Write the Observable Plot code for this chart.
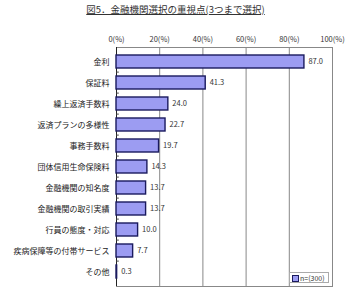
<!DOCTYPE html>
<html><head><meta charset="utf-8">
<script src="https://cdn.jsdelivr.net/npm/d3@7"></script>
<script src="https://cdn.jsdelivr.net/npm/@observablehq/plot@0.6"></script>
<style>
body{margin:0;background:#fff;font-family:"Noto Sans CJK JP",sans-serif;}
#wrap{position:relative;width:351px;height:300px;}
#title{position:absolute;left:0;top:2px;width:351px;text-align:center;font-size:9.5px;color:#333;}
#title span{text-decoration:underline;}
#legend{position:absolute;left:289px;top:272px;width:40px;height:11px;border:1px solid #aaa;background:#fff;font-size:7px;color:#333;line-height:11px;box-sizing:border-box;padding-left:2px;}
#legend i{display:inline-block;width:5px;height:5px;background:#9c9cf2;border:1px solid #1a1a5e;vertical-align:middle;margin-right:1px;position:relative;top:-1px;}
</style></head>
<body><div id="wrap"><div id="title"><span>図5．金融機関選択の重視点(3つまで選択)</span></div><div id="chart"></div><div id="legend"><i></i>n=(300)</div></div>
<script>
const categories = ["金利","保証料","繰上返済手数料","返済プランの多様性","事務手数料","団体信用生命保険料","金融機関の知名度","金融機関の取引実績","行員の態度・対応","疾病保障等の付帯サービス","その他"];
const values = [87.0,41.3,24.0,22.7,19.7,14.3,13.7,13.7,10.0,7.7,0.3];
const xTicks = [0,20,40,60,80,100];
const data = categories.map((c,i)=>({cat:c,v:values[i]}));

const plot = Plot.plot({
  width:351, height:300,
  marginLeft:116, marginRight:19, marginTop:47, marginBottom:14,
  style:{fontFamily:'"Noto Sans CJK JP",sans-serif', background:"#fff", color:"#333"},
  x:{domain:[0,100], axis:null, label:null},
  y:{domain:categories, axis:null, label:null, padding:0.36},
  marks:[
    Plot.ruleX([20,40,60,80], {stroke:"#888", strokeWidth:1}),
    Plot.frame({stroke:"#888"}),
    Plot.ruleX([0], {stroke:"#222", strokeWidth:1}),
    Plot.axisX(xTicks, {anchor:"top", label:null, tickSize:0, tickPadding:6, tickFormat:d=>d+"(%)", fontSize:7.5, fill:"#333"}),
    Plot.axisY({anchor:"left", label:null, tickSize:0, tickPadding:7, fontSize:8, fill:"#222"}),
    Plot.ruleY(categories.slice(1), {y:d=>d, x1:0, x2:1.3, dy:-10.9, stroke:"#444"}),
    Plot.barX(data, {y:"cat", x:"v", fill:"#9c9cf2", stroke:"#1a1a5e", strokeWidth:1.4}),
    Plot.text(data, {y:"cat", x:"v", text:d=>d.v.toFixed(1), textAnchor:"start", dx:4, fontSize:7.5, fill:"#333"})
  ]
});
document.getElementById("chart").appendChild(plot);
</script></body></html>
